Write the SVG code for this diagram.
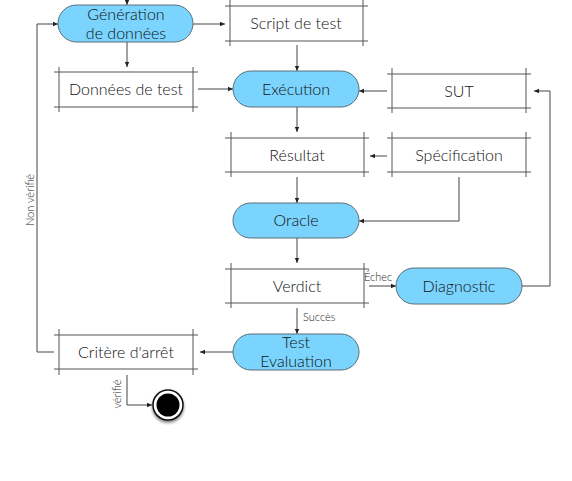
<svg xmlns="http://www.w3.org/2000/svg" width="572" height="481" viewBox="0 0 572 481">
<style>
.bg{fill:#ffffff}
.pill{fill:#7AD4FD;stroke:#5a6e78;stroke-width:1}
.frame{fill:none;stroke:#555;stroke-width:1}
.boxbg{fill:#ffffff}
.t{font-family:Lato,"Open Sans","DejaVu Sans",sans-serif;font-size:16px;fill:#111;text-anchor:middle;font-weight:300}
.lbl{font-family:Lato,"Open Sans","DejaVu Sans",sans-serif;font-size:11px;fill:#222;font-weight:300}
.con{fill:none;stroke:#444;stroke-width:1}
</style>
<defs>
<marker id="ah" markerUnits="userSpaceOnUse" markerWidth="6" markerHeight="6" refX="5" refY="3" orient="auto">
<path d="M0,0.8 L5,3 L0,5.2 Z" fill="#222"/>
</marker>
<filter id="sh" x="-40%" y="-40%" width="180%" height="180%">
<feGaussianBlur in="SourceAlpha" stdDeviation="1.5"/>
<feOffset dx="0" dy="2" result="b"/>
<feComponentTransfer><feFuncA type="linear" slope="0.5"/></feComponentTransfer>
<feMerge><feMergeNode/><feMergeNode in="SourceGraphic"/></feMerge>
</filter>
</defs>
<rect class="bg" x="0" y="0" width="572" height="481"/>

<g id="connectors">
<path class="con" d="M127,-2 V5" marker-end="url(#ah)"/>
<path class="con" d="M193,24 H225" marker-end="url(#ah)"/>
<path class="con" d="M127,42 V67" marker-end="url(#ah)"/>
<path class="con" d="M297,45 V71" marker-end="url(#ah)"/>
<path class="con" d="M198,89 H233" marker-end="url(#ah)"/>
<path class="con" d="M387,91 H359" marker-end="url(#ah)"/>
<path class="con" d="M297,107 V132" marker-end="url(#ah)"/>
<path class="con" d="M387,156 H370" marker-end="url(#ah)"/>
<path class="con" d="M297,177 V203" marker-end="url(#ah)"/>
<path class="con" d="M459,177 V221 H359" marker-end="url(#ah)"/>
<path class="con" d="M297,238 V263" marker-end="url(#ah)"/>
<path class="con" d="M369,286 H396" marker-end="url(#ah)"/>
<path class="con" d="M522,286 H550 V91 H534" marker-end="url(#ah)"/>
<path class="con" d="M297,308 V334" marker-end="url(#ah)"/>
<path class="con" d="M233,352 H200" marker-end="url(#ah)"/>
<path class="con" d="M54,352 H37 V24 H58" marker-end="url(#ah)"/>
<path class="con" d="M127,375 V405 H152" marker-end="url(#ah)"/>
<text class="lbl" x="364" y="281" font-size="12">Échec</text>
<text class="lbl" x="303" y="321">Succès</text>
<text class="lbl" transform="translate(34,200) rotate(-90)" text-anchor="middle" font-size="10">Non vérifié</text>
<text class="lbl" transform="translate(121,394) rotate(-90)" text-anchor="middle" font-size="9">vérifié</text>
</g>

<g id="generation">
<rect class="pill" x="58" y="5" width="135" height="37" rx="18.5"/>
<text class="t" x="126" y="20">Génération</text>
<text class="t" x="126" y="39">de données</text>
</g>

<g id="script">
<rect class="boxbg" x="230" y="6" width="133" height="35"/>
<path class="frame" d="M225,6 H368 M225,41 H368 M230,0 V46 M363,0 V46"/>
<text class="t" x="296" y="29">Script de test</text>
</g>

<g id="donnees">
<rect class="boxbg" x="59" y="72" width="134" height="35"/>
<path class="frame" d="M54,72 H198 M54,107 H198 M59,67 V112 M193,67 V112"/>
<text class="t" x="126" y="95">Données de test</text>
</g>

<g id="execution">
<rect class="pill" x="233" y="71" width="126" height="36" rx="18"/>
<text class="t" x="296" y="95">Exécution</text>
</g>

<g id="sut">
<rect class="boxbg" x="392" y="74" width="134" height="34"/>
<path class="frame" d="M387,74 H531 M387,108 H531 M392,68 V113 M526,68 V113"/>
<text class="t" x="459" y="97">SUT</text>
</g>

<g id="resultat">
<rect class="boxbg" x="231" y="138" width="133" height="34"/>
<path class="frame" d="M225,138 H369 M225,172 H369 M231,132 V177 M364,132 V177"/>
<text class="t" x="297" y="161">Résultat</text>
</g>

<g id="specification">
<rect class="boxbg" x="392" y="138" width="134" height="34"/>
<path class="frame" d="M387,138 H531 M387,172 H531 M392,132 V177 M526,132 V177"/>
<text class="t" x="459" y="161">Spécification</text>
</g>

<g id="oracle">
<rect class="pill" x="233" y="203" width="126" height="35" rx="17.5"/>
<text class="t" x="296" y="226">Oracle</text>
</g>

<g id="verdict">
<rect class="boxbg" x="231" y="269" width="133" height="34"/>
<path class="frame" d="M225,269 H369 M225,303 H369 M231,263 V308 M364,263 V308"/>
<text class="t" x="297" y="292">Verdict</text>
</g>

<g id="diagnostic">
<rect class="pill" x="396" y="268" width="126" height="36" rx="18"/>
<text class="t" x="459" y="292">Diagnostic</text>
</g>

<g id="evaluation">
<rect class="pill" x="233" y="334" width="126" height="36" rx="18"/>
<text class="t" x="296" y="348">Test</text>
<text class="t" x="296" y="367">Evaluation</text>
</g>

<g id="critere">
<rect class="boxbg" x="59" y="335" width="134" height="34"/>
<path class="frame" d="M54,335 H198 M54,369 H198 M59,329 V375 M193,329 V375"/>
<text class="t" x="126" y="358">Critère d'arrêt</text>
</g>

<g id="final" filter="url(#sh)">
<circle cx="168" cy="405" r="15" fill="#ffffff" stroke="#111" stroke-width="1.5"/>
<circle cx="168" cy="405" r="11.5" fill="#000"/>
</g>
</svg>
